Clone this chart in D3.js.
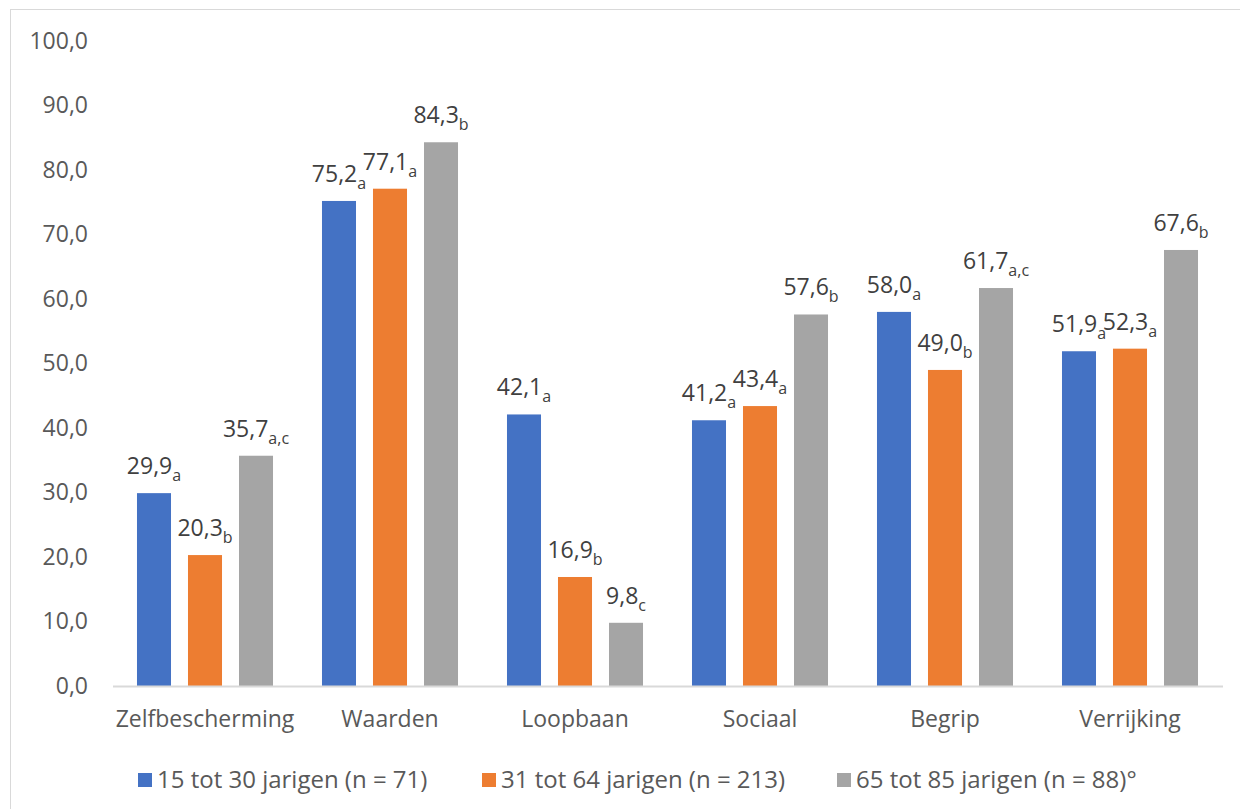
<!DOCTYPE html>
<html>
<head>
<meta charset="utf-8">
<script src="https://cdn.jsdelivr.net/npm/d3@7"></script>
<style>
  body { margin: 0; background: #fff; }
  svg { display: block; font-family: "Open Sans", sans-serif; }
</style>
</head>
<body>
<div id="chart"></div>
<script>
// categories and series
const categories = ["Zelfbescherming", "Waarden", "Loopbaan", "Sociaal", "Begrip", "Verrijking"];
const seriesNames = ["15 tot 30 jarigen (n = 71)", "31 tot 64 jarigen (n = 213)", "65 tot 85 jarigen (n = 88)°"];
const youngValues = [29.9, 75.2, 42.1, 41.2, 58.0, 51.9];
const middleValues = [20.3, 77.1, 16.9, 43.4, 49.0, 52.3];
const oldValues = [35.7, 84.3, 9.8, 57.6, 61.7, 67.6];
const youngSubs = ["a", "a", "a", "a", "a", "a"];
const middleSubs = ["b", "a", "b", "a", "b", "a"];
const oldSubs = ["a,c", "b", "c", "b", "a,c", "b"];
const yTicks = [0, 10, 20, 30, 40, 50, 60, 70, 80, 90, 100];
const colors = ["#4472c4", "#ed7d31", "#a5a5a5"];

const width = 1240, height = 809;
const font = "'Open Sans', sans-serif";
const svg = d3.select("#chart").append("svg")
    .attr("width", width)
    .attr("height", height);

// chart border
svg.append("rect")
    .attr("x", 10.5).attr("y", 9.5)
    .attr("width", width).attr("height", height)
    .attr("fill", "none")
    .attr("stroke", "#d9d9d9");

const x0 = d3.scaleBand().domain(categories).range([112.5, 1222.5]).paddingInner(0);
const x1 = d3.scaleBand().domain([0, 1, 2]).range([0, x0.bandwidth()])
    .paddingInner(0.333).paddingOuter(0.48);
const y = d3.scaleLinear().domain([0, 100]).range([686, 41]);

const fmt = v => v.toFixed(1).replace(".", ",");

// y axis labels
const yAxis = svg.append("g")
    .attr("transform", "translate(88,0)")
    .call(d3.axisLeft(y).tickValues(yTicks).tickFormat(fmt).tickSize(0).tickPadding(0));
yAxis.select(".domain").remove();
yAxis.selectAll("text")
    .attr("fill", "#595959")
    .attr("font-size", 23)
    .attr("font-family", font);

// bars
const series = [youngValues, middleValues, oldValues];
const subs = [youngSubs, middleSubs, oldSubs];
const rows = [];
categories.forEach((c, i) => {
  series.forEach((s, k) => rows.push({ cat: c, k: k, value: s[i], sub: subs[k][i] }));
});

svg.append("g").selectAll("rect")
    .data(rows)
    .join("rect")
    .attr("x", d => x0(d.cat) + x1(d.k))
    .attr("y", d => y(d.value))
    .attr("width", x1.bandwidth())
    .attr("height", d => y(0) - y(d.value))
    .attr("fill", d => colors[d.k]);

// data labels with subscripts
const labels = svg.append("g").selectAll("text")
    .data(rows)
    .join("text")
    .attr("x", d => x0(d.cat) + x1(d.k) + x1.bandwidth() / 2)
    .attr("y", d => y(d.value) - 19)
    .attr("text-anchor", "middle")
    .attr("font-size", 23)
    .attr("fill", "#404040");
labels.append("tspan").text(d => fmt(d.value));
labels.append("tspan")
    .attr("font-size", 16)
    .attr("dy", 7)
    .text(d => d.sub);

// x axis
const xAxis = svg.append("g")
    .attr("transform", "translate(0,686)")
    .call(d3.axisBottom(x0).tickSize(0).tickPadding(25));
xAxis.select(".domain").attr("stroke", "#d9d9d9").attr("stroke-width", 2);
xAxis.selectAll("text")
    .attr("fill", "#595959")
    .attr("font-size", 23)
    .attr("font-family", font);

// legend
const legendX = [138, 482, 837];
const legend = svg.append("g").selectAll("g")
    .data(seriesNames)
    .join("g")
    .attr("transform", (d, i) => `translate(${legendX[i]},773)`);
legend.append("rect")
    .attr("width", 14).attr("height", 14)
    .attr("fill", (d, i) => colors[i]);
legend.append("text")
    .attr("x", 19).attr("y", 15)
    .attr("font-size", 24)
    .attr("fill", "#595959")
    .text(d => d);
</script>
</body>
</html>
